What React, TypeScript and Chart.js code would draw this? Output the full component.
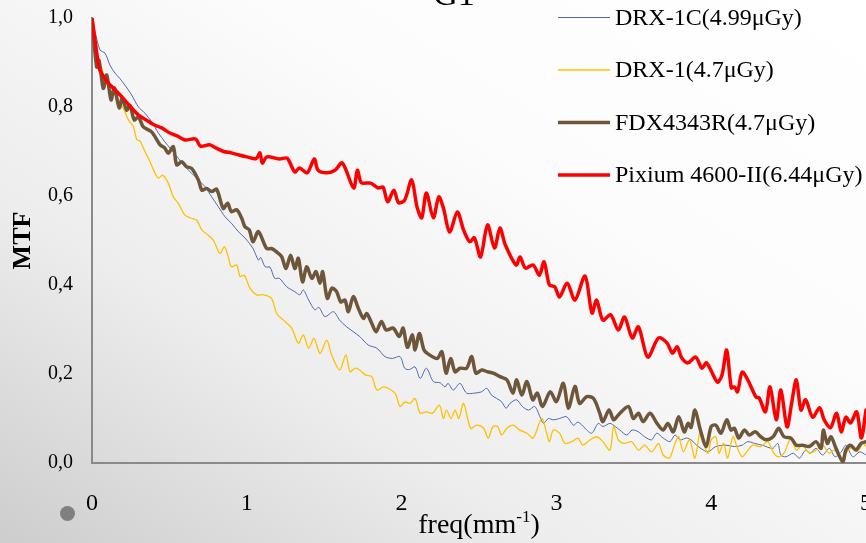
import React, { useEffect, useRef } from 'react';
import { Chart, registerables } from 'chart.js';

Chart.register(...registerables);

const FONT = '"Liberation Serif", "Times New Roman", serif';

const xTickLabels = ['0', '1', '2', '3', '4', '5'];
const yTickLabels = ['0,0', '0,2', '0,4', '0,6', '0,8', '1,0'];
const seriesNames = ['DRX-1C(4.99μGy)', 'DRX-1(4.7μGy)', 'FDX4343R(4.7μGy)', 'Pixium 4600-II(6.44μGy)'];
const seriesColors = ['#4d68ad', '#ffc000', '#6e563a', '#ff0000'];
const seriesWidths = [1, 1.3, 3.5, 3.5];

// [freq, MTF]
const drx1c: [number, number][] = [
  [0, 1.0], [0.02, 0.969], [0.052, 0.928], [0.084, 0.921], [0.116, 0.894], [0.149, 0.876], [0.18, 0.864], [0.213, 0.849],
  [0.256, 0.827], [0.3, 0.8], [0.342, 0.786], [0.385, 0.767], [0.43, 0.741], [0.47, 0.722], [0.515, 0.703], [0.557, 0.685],
  [0.6, 0.666], [0.644, 0.651], [0.687, 0.636], [0.73, 0.621], [0.773, 0.598], [0.816, 0.576], [0.86, 0.553], [0.9, 0.539],
  [0.945, 0.52], [0.99, 0.505], [1.04, 0.482], [1.075, 0.456], [1.09, 0.462], [1.118, 0.441], [1.15, 0.44], [1.18, 0.415],
  [1.21, 0.415], [1.258, 0.396], [1.31, 0.385], [1.343, 0.378], [1.365, 0.389], [1.4, 0.366], [1.44, 0.344], [1.465, 0.35],
  [1.505, 0.329], [1.56, 0.34], [1.6, 0.321], [1.645, 0.306], [1.688, 0.295], [1.73, 0.284], [1.785, 0.265], [1.84, 0.258],
  [1.893, 0.239], [1.94, 0.235], [1.99, 0.239], [2.02, 0.213], [2.05, 0.21], [2.087, 0.216], [2.12, 0.19], [2.16, 0.213],
  [2.205, 0.183], [2.25, 0.18], [2.28, 0.171], [2.3, 0.179], [2.334, 0.164], [2.377, 0.179], [2.42, 0.157], [2.47, 0.157],
  [2.517, 0.16], [2.55, 0.168], [2.58, 0.153], [2.614, 0.145], [2.645, 0.138], [2.675, 0.123], [2.7, 0.134], [2.743, 0.142],
  [2.78, 0.127], [2.82, 0.119], [2.86, 0.127], [2.894, 0.104], [2.916, 0.089], [2.948, 0.1], [2.98, 0.097], [3.02, 0.1],
  [3.066, 0.104], [3.11, 0.085], [3.14, 0.092], [3.185, 0.078], [3.228, 0.067], [3.27, 0.089], [3.3, 0.082], [3.346, 0.089],
  [3.38, 0.082], [3.41, 0.074], [3.454, 0.063], [3.49, 0.074], [3.53, 0.07], [3.57, 0.059], [3.615, 0.052], [3.648, 0.067],
  [3.69, 0.056], [3.734, 0.048], [3.766, 0.063], [3.8, 0.052], [3.84, 0.056], [3.87, 0.052], [3.906, 0.04], [3.95, 0.029],
  [3.98, 0.025], [4.03, 0.037], [4.095, 0.04], [4.15, 0.037], [4.2, 0.04], [4.236, 0.048], [4.28, 0.044], [4.33, 0.04],
  [4.397, 0.033], [4.43, 0.044], [4.45, 0.018], [4.483, 0.014], [4.53, 0.022], [4.57, 0.011], [4.61, 0.029], [4.64, 0.022],
  [4.677, 0.033], [4.72, 0.018], [4.763, 0.033], [4.8, 0.014], [4.84, 0.025], [4.87, 0.04], [4.914, 0.014], [4.96, 0.025],
  [5.0, 0.018],
];

const drx1: [number, number][] = [
  [0, 1.0], [0.04, 0.906], [0.062, 0.887], [0.084, 0.861], [0.116, 0.838], [0.149, 0.827], [0.18, 0.812], [0.213, 0.789],
  [0.235, 0.771], [0.267, 0.756], [0.29, 0.726], [0.31, 0.724], [0.342, 0.7], [0.375, 0.677], [0.407, 0.651], [0.43, 0.64],
  [0.455, 0.647], [0.493, 0.629], [0.525, 0.598], [0.557, 0.584], [0.6, 0.557], [0.644, 0.55], [0.676, 0.546], [0.709, 0.524],
  [0.751, 0.512], [0.784, 0.501], [0.827, 0.471], [0.855, 0.486], [0.88, 0.464], [0.9, 0.441], [0.935, 0.445], [0.956, 0.419],
  [0.984, 0.422], [1.02, 0.393], [1.064, 0.378], [1.11, 0.378], [1.16, 0.37], [1.193, 0.336], [1.236, 0.321], [1.29, 0.303],
  [1.333, 0.269], [1.365, 0.288], [1.4, 0.258], [1.434, 0.28], [1.473, 0.246], [1.516, 0.276], [1.548, 0.243], [1.6, 0.209],
  [1.64, 0.243], [1.667, 0.205], [1.7, 0.213], [1.73, 0.209], [1.764, 0.198], [1.807, 0.194], [1.84, 0.164], [1.886, 0.171],
  [1.957, 0.157], [1.99, 0.127], [2.02, 0.137], [2.054, 0.134], [2.087, 0.145], [2.12, 0.112], [2.16, 0.115], [2.2, 0.112],
  [2.244, 0.13], [2.27, 0.1], [2.29, 0.119], [2.32, 0.1], [2.345, 0.119], [2.37, 0.1], [2.4, 0.134], [2.446, 0.078],
  [2.485, 0.085], [2.53, 0.078], [2.56, 0.056], [2.59, 0.082], [2.62, 0.082], [2.646, 0.063], [2.68, 0.078], [2.72, 0.085],
  [2.765, 0.074], [2.81, 0.067], [2.85, 0.056], [2.905, 0.1], [2.937, 0.067], [2.955, 0.048], [2.98, 0.074], [3.02, 0.067],
  [3.056, 0.044], [3.1, 0.048], [3.14, 0.056], [3.17, 0.04], [3.21, 0.05], [3.26, 0.059], [3.3, 0.048], [3.346, 0.029],
  [3.37, 0.082], [3.4, 0.052], [3.44, 0.044], [3.486, 0.048], [3.53, 0.029], [3.57, 0.04], [3.615, 0.025], [3.66, 0.044],
  [3.69, 0.018], [3.73, 0.011], [3.766, 0.044], [3.79, 0.059], [3.82, 0.025], [3.86, 0.052], [3.895, 0.011], [3.93, 0.074],
  [3.955, 0.04], [3.98, 0.022], [4.0, 0.052], [4.03, 0.059], [4.05, 0.022], [4.08, 0.044], [4.106, 0.011], [4.14, 0.059],
  [4.17, 0.033], [4.2, 0.014], [4.23, 0.025], [4.268, 0.04], [4.32, 0.037], [4.365, 0.048], [4.4, 0.025], [4.43, 0.014],
  [4.47, 0.022], [4.515, 0.056], [4.55, 0.029], [4.59, 0.04], [4.634, 0.022], [4.677, 0.029], [4.72, 0.04], [4.76, 0.022],
  [4.795, 0.029], [4.84, 0.011], [4.87, 0.022], [4.914, 0.037], [4.945, 0.025], [4.98, 0.044], [5.0, 0.037],
];

const fdx4343r: [number, number][] = [
  [0, 1.0], [0.03, 0.89], [0.045, 0.905], [0.073, 0.842], [0.095, 0.872], [0.123, 0.816], [0.144, 0.843], [0.176, 0.798],
  [0.196, 0.82], [0.224, 0.793], [0.245, 0.804], [0.273, 0.771], [0.3, 0.778], [0.33, 0.756], [0.385, 0.744], [0.44, 0.715],
  [0.47, 0.708], [0.493, 0.696], [0.525, 0.711], [0.547, 0.67], [0.58, 0.677], [0.61, 0.666], [0.644, 0.662], [0.687, 0.636],
  [0.71, 0.613], [0.74, 0.617], [0.773, 0.61], [0.805, 0.615], [0.848, 0.572], [0.876, 0.584], [0.9, 0.565], [0.935, 0.569],
  [0.967, 0.55], [0.988, 0.531], [1.016, 0.524], [1.04, 0.497], [1.075, 0.52], [1.128, 0.482], [1.16, 0.482], [1.19, 0.475],
  [1.225, 0.464], [1.253, 0.437], [1.283, 0.467], [1.31, 0.437], [1.333, 0.46], [1.36, 0.407], [1.387, 0.441], [1.42, 0.415],
  [1.447, 0.43], [1.473, 0.404], [1.49, 0.43], [1.52, 0.37], [1.55, 0.393], [1.58, 0.385], [1.607, 0.362], [1.634, 0.366],
  [1.656, 0.34], [1.688, 0.374], [1.72, 0.348], [1.753, 0.325], [1.775, 0.336], [1.807, 0.314], [1.835, 0.295], [1.87, 0.318],
  [1.9, 0.299], [1.946, 0.303], [1.985, 0.284], [2.01, 0.303], [2.037, 0.26], [2.07, 0.288], [2.087, 0.254], [2.115, 0.291],
  [2.145, 0.254], [2.18, 0.243], [2.23, 0.235], [2.26, 0.25], [2.287, 0.202], [2.317, 0.235], [2.345, 0.205], [2.377, 0.213],
  [2.42, 0.213], [2.453, 0.239], [2.48, 0.202], [2.517, 0.209], [2.555, 0.205], [2.592, 0.202], [2.636, 0.194], [2.68, 0.187],
  [2.72, 0.157], [2.743, 0.187], [2.776, 0.153], [2.81, 0.183], [2.847, 0.142], [2.877, 0.157], [2.91, 0.127], [2.96, 0.16],
  [3.0, 0.138], [3.045, 0.179], [3.077, 0.123], [3.12, 0.172], [3.15, 0.134], [3.196, 0.149], [3.24, 0.145], [3.28, 0.112],
  [3.3, 0.093], [3.34, 0.119], [3.37, 0.097], [3.4, 0.108], [3.465, 0.127], [3.497, 0.1], [3.53, 0.112], [3.56, 0.093],
  [3.605, 0.112], [3.65, 0.089], [3.69, 0.074], [3.72, 0.089], [3.755, 0.07], [3.79, 0.104], [3.826, 0.07], [3.85, 0.089],
  [3.87, 0.08], [3.895, 0.119], [3.93, 0.074], [3.968, 0.037], [4.0, 0.082], [4.03, 0.085], [4.063, 0.067], [4.1, 0.097],
  [4.128, 0.074], [4.15, 0.078], [4.178, 0.056], [4.214, 0.074], [4.246, 0.063], [4.285, 0.07], [4.32, 0.059], [4.354, 0.052],
  [4.4, 0.059], [4.436, 0.078], [4.47, 0.059], [4.515, 0.056], [4.55, 0.04], [4.59, 0.04], [4.634, 0.037], [4.677, 0.048],
  [4.71, 0.033], [4.724, 0.074], [4.75, 0.044], [4.774, 0.059], [4.806, 0.033], [4.85, 0.003], [4.87, 0.029], [4.9, 0.04],
  [4.935, 0.029], [4.968, 0.044], [5.0, 0.048],
];

const pixium: [number, number][] = [
  [0, 1.0], [0.04, 0.899], [0.05, 0.883], [0.1, 0.856], [0.15, 0.838], [0.2, 0.82], [0.25, 0.8], [0.3, 0.782],
  [0.35, 0.771], [0.4, 0.76], [0.45, 0.753], [0.5, 0.742], [0.55, 0.735], [0.6, 0.726], [0.67, 0.728], [0.7, 0.712],
  [0.76, 0.715], [0.8, 0.708], [0.85, 0.7], [0.9, 0.697], [0.95, 0.692], [1.0, 0.688], [1.06, 0.684], [1.085, 0.697],
  [1.1, 0.674], [1.13, 0.688], [1.21, 0.683], [1.26, 0.685], [1.31, 0.654], [1.34, 0.663], [1.39, 0.652], [1.436, 0.683],
  [1.46, 0.658], [1.516, 0.652], [1.57, 0.658], [1.617, 0.674], [1.69, 0.618], [1.714, 0.658], [1.74, 0.63], [1.8, 0.629],
  [1.85, 0.618], [1.88, 0.62], [1.91, 0.587], [1.95, 0.613], [1.98, 0.585], [2.02, 0.591], [2.065, 0.636], [2.1, 0.575],
  [2.13, 0.551], [2.16, 0.607], [2.205, 0.551], [2.24, 0.598], [2.27, 0.573], [2.31, 0.519], [2.36, 0.564], [2.4, 0.524],
  [2.44, 0.497], [2.47, 0.506], [2.51, 0.463], [2.555, 0.535], [2.6, 0.483], [2.635, 0.528], [2.67, 0.49], [2.74, 0.445],
  [2.765, 0.463], [2.8, 0.438], [2.85, 0.445], [2.89, 0.422], [2.92, 0.452], [2.955, 0.4], [2.99, 0.396], [3.02, 0.373],
  [3.07, 0.404], [3.12, 0.366], [3.185, 0.42], [3.23, 0.337], [3.26, 0.366], [3.3, 0.321], [3.35, 0.333], [3.4, 0.299],
  [3.44, 0.328], [3.49, 0.281], [3.53, 0.306], [3.59, 0.238], [3.66, 0.281], [3.714, 0.27], [3.75, 0.247], [3.78, 0.261],
  [3.81, 0.236], [3.85, 0.225], [3.9, 0.238], [3.94, 0.213], [3.97, 0.225], [4.04, 0.182], [4.07, 0.198], [4.1, 0.254],
  [4.13, 0.169], [4.15, 0.171], [4.17, 0.16], [4.2, 0.204], [4.236, 0.187], [4.29, 0.148], [4.31, 0.146], [4.35, 0.115],
  [4.38, 0.171], [4.42, 0.097], [4.45, 0.164], [4.49, 0.081], [4.52, 0.135], [4.55, 0.187], [4.58, 0.119], [4.61, 0.142],
  [4.655, 0.103], [4.7, 0.124], [4.73, 0.097], [4.77, 0.079], [4.81, 0.112], [4.84, 0.07], [4.87, 0.103], [4.9, 0.09],
  [4.94, 0.115], [4.97, 0.056], [5.0, 0.119],
];

const allSeries = [drx1c, drx1, fdx4343r, pixium];
const drawOrder = [4, 3, 2, 1];

const overlayPlugin = {
  id: 'overlay',
  afterDraw(chart: any) {
    const ctx = chart.ctx as CanvasRenderingContext2D;
    const area = chart.chartArea;
    ctx.save();
    // legend
    chart.data.datasets.forEach((ds: any, i: number) => {
      const y = 17.5 + i * 52.5;
      ctx.strokeStyle = ds.borderColor;
      ctx.lineWidth = ds.borderWidth;
      ctx.beginPath();
      ctx.moveTo(558, y);
      ctx.lineTo(610, y);
      ctx.stroke();
      ctx.fillStyle = '#000';
      ctx.font = `24px ${FONT}`;
      ctx.textAlign = 'left';
      ctx.textBaseline = 'middle';
      ctx.fillText(ds.label, 615, y + 1);
    });
    // chart title (cut off at top)
    ctx.font = `34px ${FONT}`;
    ctx.textAlign = 'center';
    ctx.textBaseline = 'alphabetic';
    ctx.fillStyle = '#000';
    ctx.fillText('G1', 454, 5);
    // x-axis title with superscript
    const main = 'freq(mm';
    const sup = '-1';
    const close = ')';
    ctx.font = `28px ${FONT}`;
    const w1 = ctx.measureText(main).width;
    const w3 = ctx.measureText(close).width;
    ctx.font = `17px ${FONT}`;
    const w2 = ctx.measureText(sup).width;
    const cx = (area.left + area.right) / 2;
    let x = cx - (w1 + w2 + w3) / 2;
    const base = 533;
    ctx.textAlign = 'left';
    ctx.font = `28px ${FONT}`;
    ctx.fillText(main, x, base);
    x += w1;
    ctx.font = `17px ${FONT}`;
    ctx.fillText(sup, x, base - 11);
    x += w2;
    ctx.font = `28px ${FONT}`;
    ctx.fillText(close, x, base);
    ctx.restore();
  },
};

export default function App() {
  const ref = useRef<HTMLCanvasElement>(null);

  useEffect(() => {
    const canvas = ref.current;
    if (!canvas) return;
    const chart = new Chart(canvas, {
      type: 'line',
      data: {
        datasets: allSeries.map((s, i) => ({
          label: seriesNames[i],
          data: s.map(([x, y]) => ({ x, y })),
          borderColor: seriesColors[i],
          backgroundColor: seriesColors[i],
          borderWidth: seriesWidths[i],
          pointRadius: 0,
          tension: 0.3,
          fill: false,
          order: drawOrder[i],
          borderJoinStyle: 'round',
          borderCapStyle: 'round',
        })),
      },
      options: {
        responsive: false,
        animation: false,
        devicePixelRatio: 1,
        layout: { padding: { left: 0, top: 18, right: 34, bottom: 0 } },
        plugins: {
          legend: { display: false },
          tooltip: { enabled: false },
          title: { display: false },
        },
        scales: {
          x: {
            type: 'linear',
            min: 0,
            max: 5,
            grid: { display: false, drawTicks: false },
            border: { display: true, color: '#8a8a8a', width: 2 },
            ticks: {
              stepSize: 1,
              autoSkip: false,
              maxRotation: 0,
              padding: 26,
              color: '#000',
              font: { family: FONT, size: 24 },
              callback: (_v: any, idx: number) => xTickLabels[idx],
            },
            afterFit: (s: any) => {
              s.height = 80;
              s.paddingLeft = 0;
              s.paddingRight = 0;
            },
          },
          y: {
            type: 'linear',
            min: 0,
            max: 1,
            grid: { display: false, drawTicks: false },
            border: { display: true, color: '#8a8a8a', width: 2 },
            ticks: {
              stepSize: 0.2,
              padding: 19,
              color: '#000',
              font: { family: FONT, size: 20 },
              callback: (_v: any, idx: number) => yTickLabels[idx],
            },
            title: {
              display: true,
              text: 'MTF',
              color: '#000',
              font: { family: FONT, size: 26, weight: 'bold' },
              padding: { top: 8, bottom: 0 },
            },
            afterFit: (s: any) => {
              s.width = 92;
              s.paddingTop = 0;
              s.paddingBottom = 0;
            },
          },
        },
      },
      plugins: [overlayPlugin],
    } as any);
    return () => chart.destroy();
  }, []);

  return (
    <div
      style={{
        position: 'fixed',
        left: 0,
        top: 0,
        width: 866,
        height: 543,
        overflow: 'hidden',
        background: 'linear-gradient(to bottom left, #ffffff 0%, #fcfcfc 35%, #ededed 68%, #cdcdcd 100%)',
      }}
    >
      <canvas ref={ref} width={900} height={543} style={{ display: 'block', width: 900, height: 543 }} />
      <div
        style={{
          position: 'absolute',
          left: 60,
          top: 506,
          width: 15,
          height: 15,
          borderRadius: '50%',
          background: '#808080',
        }}
      />
    </div>
  );
}
